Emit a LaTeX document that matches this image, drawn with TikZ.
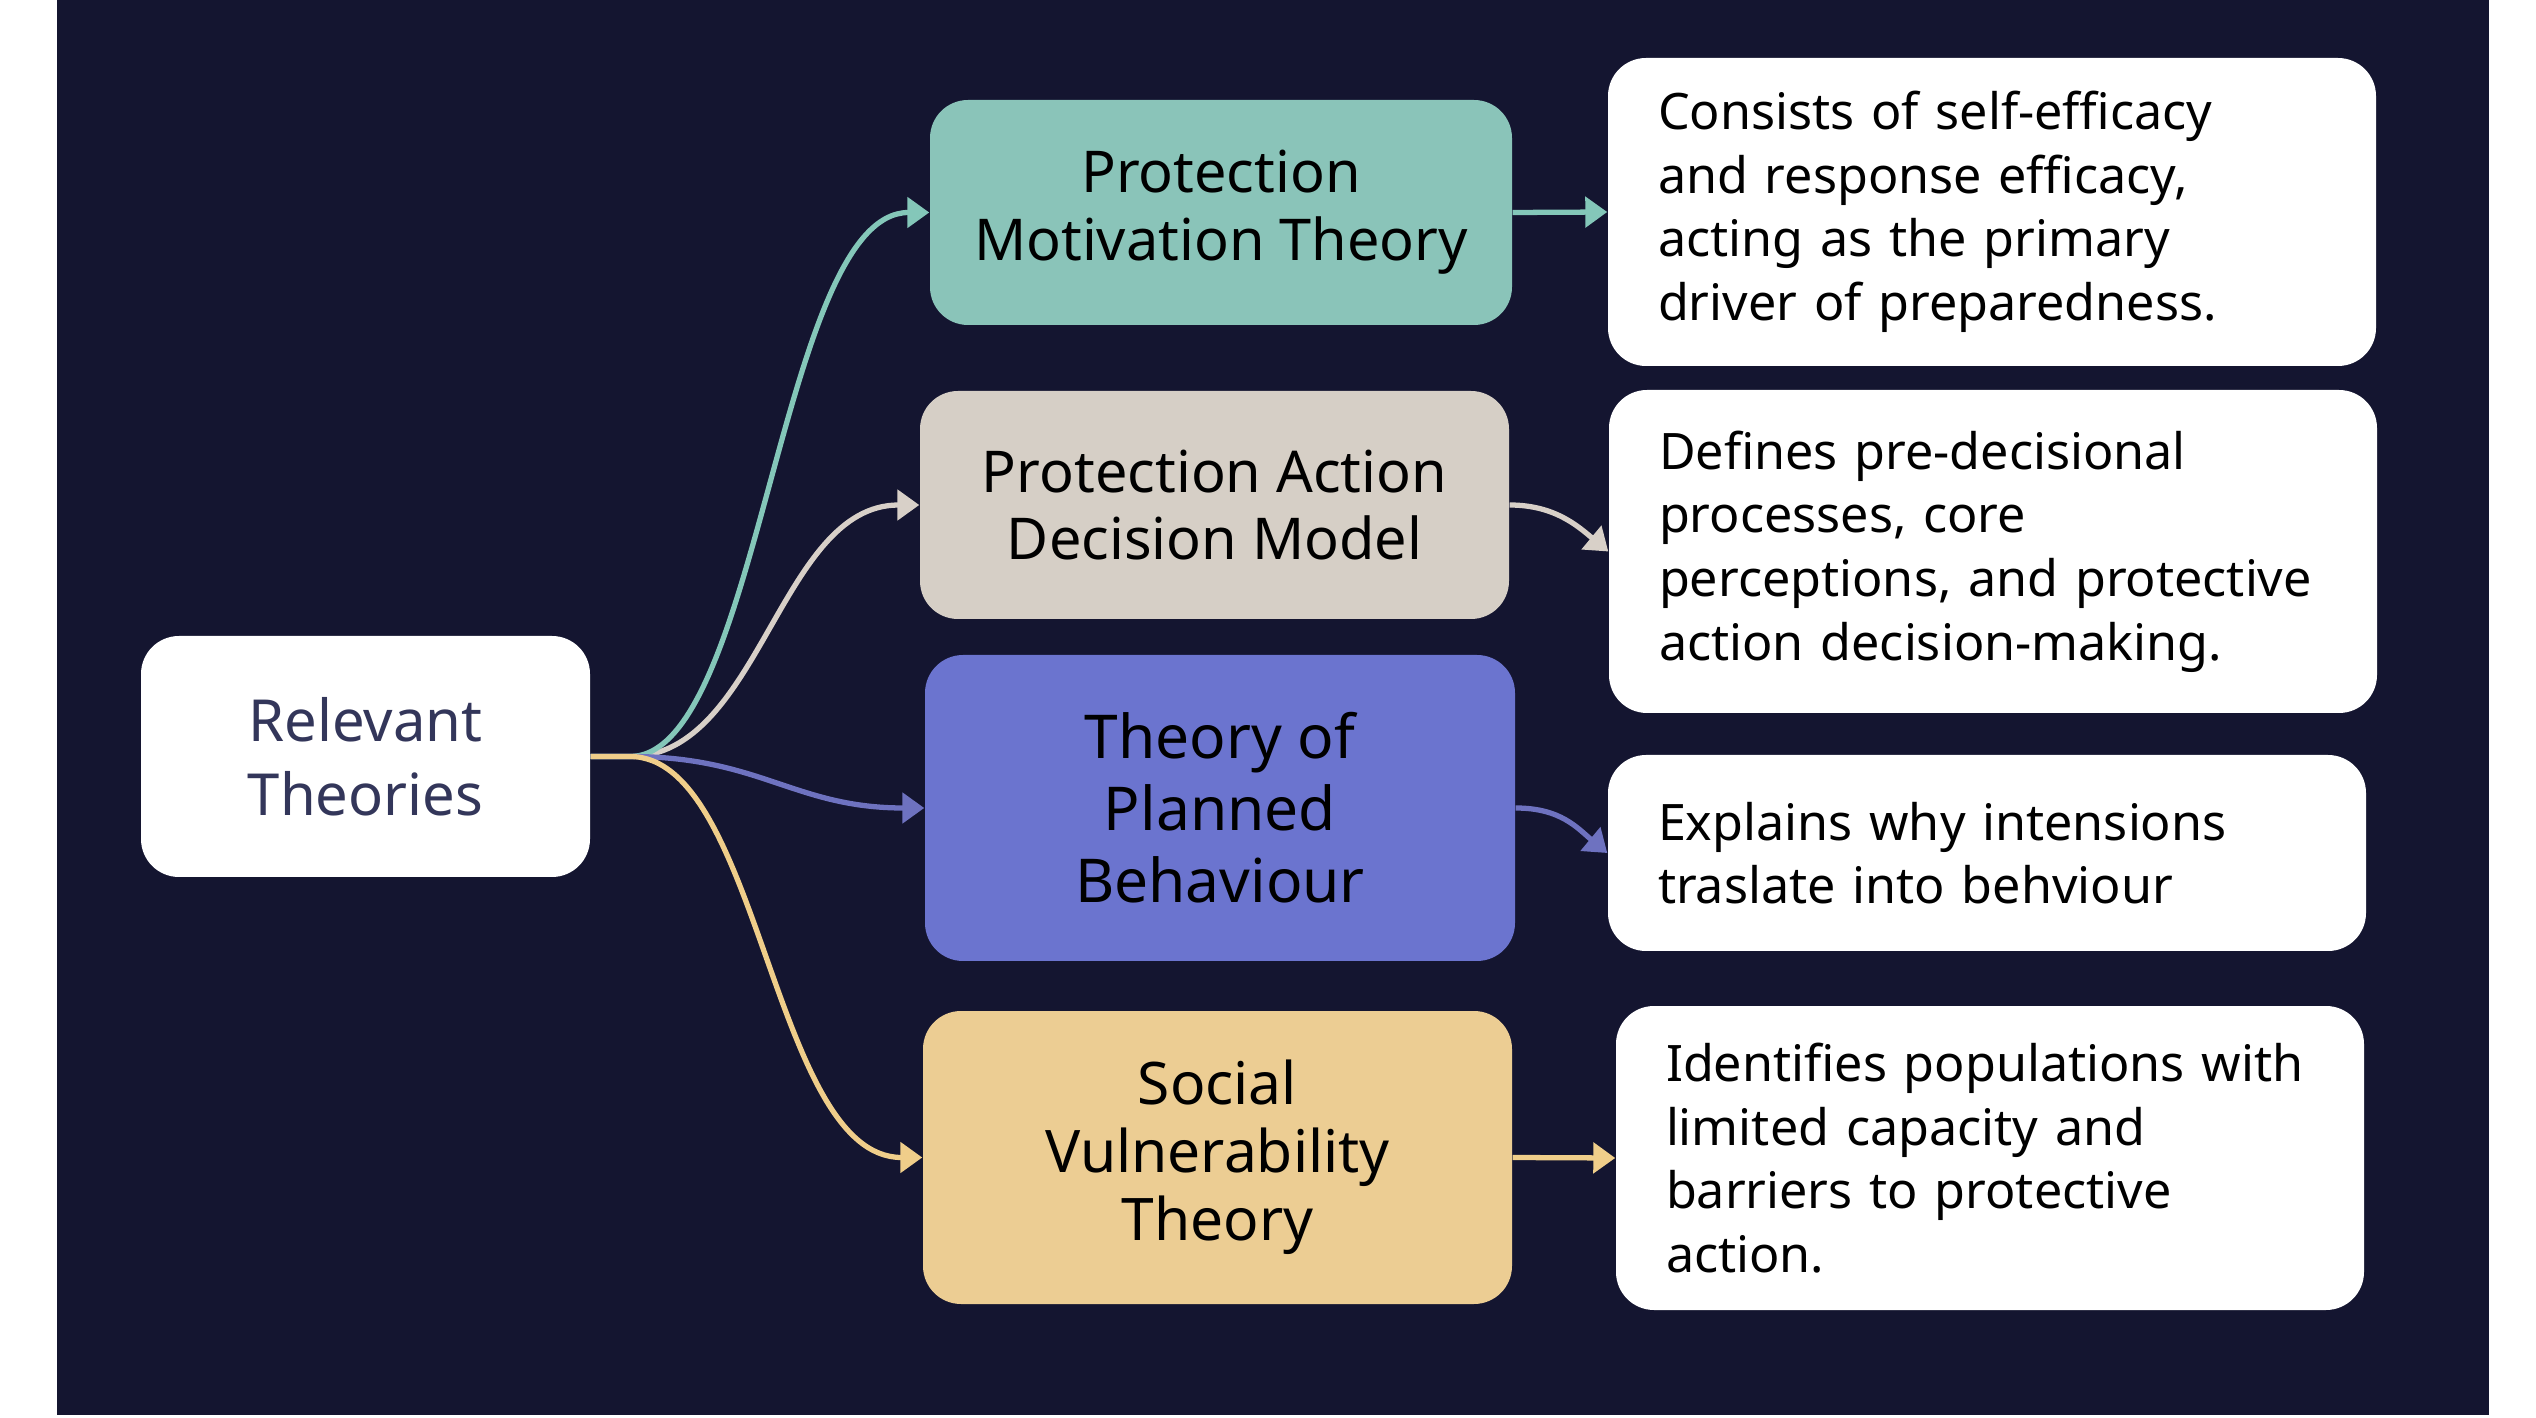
\documentclass[tikz,border=0pt]{standalone}
\usepackage{fontspec}
\setmainfont{Noto Sans}
\usetikzlibrary{arrows.meta}
\definecolor{bgnavy}{HTML}{141530}
\definecolor{rtnavy}{HTML}{33365A}
\definecolor{pmtteal}{HTML}{8AC4B9}
\definecolor{padmbeige}{HTML}{D6CFC6}
\definecolor{tpbblue}{HTML}{6B74CF}
\definecolor{svtsand}{HTML}{ECCD93}
\definecolor{pmtline}{HTML}{84C7B9}
\definecolor{padmline}{HTML}{D8D0C8}
\definecolor{tpbline}{HTML}{6E72C0}
\definecolor{svtline}{HTML}{F0CE8A}
\tikzset{
  box/.style={rectangle,rounded corners=0.38cm,inner sep=0pt},
  theory/.style={box,align=center,text=black,font=\fontsize{16.4}{19.3}\selectfont},
  descr/.style={box,fill=white,align=left,inner xsep=0.5cm,text=black,font=\fontsize{14.3}{18.1}\selectfont},
  link/.style={line width=1.5pt,-{Triangle[length=0.22cm,width=0.3cm]}},
}
\begin{document}
\begin{tikzpicture}
\useasboundingbox (0,0) rectangle (25.36,-14.18);
\fill[bgnavy] (0.57,0) rectangle (24.89,-14.15);
% root
\node[box,fill=white,text=rtnavy,align=center,font=\fontsize{16.5}{21}\selectfont,minimum width=4.49cm,minimum height=2.41cm] (rt) at (3.655,-7.565) {Relevant\\Theories};
% theories
\node[theory,fill=pmtteal,minimum width=5.82cm,minimum height=2.25cm] (pmt) at (12.21,-2.125) {Protection\\Motivation Theory};
\node[theory,fill=padmbeige,minimum width=5.89cm,minimum height=2.28cm] (padm) at (12.145,-5.05) {Protection Action\\Decision Model};
\node[theory,fill=tpbblue,minimum width=5.9cm,minimum height=3.06cm,font=\fontsize{17.2}{20.5}\selectfont] (tpb) at (12.2,-8.08) {Theory of\\Planned\\Behaviour};
\node[theory,fill=svtsand,minimum width=5.89cm,minimum height=2.93cm,font=\fontsize{16.7}{19.3}\selectfont] (svt) at (12.175,-11.575) {Social\\Vulnerability\\Theory};
% descriptions
\node[descr,text width=6.68cm,minimum height=3.08cm] (d1) at (19.92,-2.12) {Consists of self-efficacy\\and response efficacy,\\acting as the primary\\driver of preparedness.};
\node[descr,text width=6.68cm,minimum height=3.23cm] (d2) at (19.93,-5.515) {Defines pre-decisional\\processes, core\\perceptions, and protective\\action decision-making.};
\node[descr,text width=6.58cm,minimum height=1.96cm] (d3) at (19.87,-8.53) {Explains why intensions\\traslate into behviour};
\node[descr,text width=6.48cm,minimum height=3.04cm] (d4) at (19.90,-11.58) {Identifies populations with\\limited capacity and\\barriers to protective\\action.};
% links
\coordinate (fork) at (6.3,-7.565);
\draw[link,padmline] (rt.east) -- (fork) .. controls +(1.3,0) and +(-1.4,0) .. (padm.west);
\draw[link,pmtline] (rt.east) -- (fork) .. controls +(1.3,0) and +(-1.5,0) .. (pmt.west);
\draw[link,tpbline] (rt.east) -- (fork) .. controls +(1.3,0) and +(-1.3,0) .. (tpb.west);
\draw[link,svtline] (rt.east) -- (fork) .. controls +(1.3,0) and +(-1.5,0) .. (svt.west);
\draw[link,pmtline] (pmt.east) -- (d1.west);
\draw[link,padmline] (padm.east) .. controls +(0.45,0) and +(-0.3,0.25) .. (d2.west);
\draw[link,tpbline] (tpb.east) .. controls +(0.45,0) and +(-0.3,0.25) .. (d3.west);
\draw[link,svtline] (svt.east) -- (d4.west);
\end{tikzpicture}
\end{document}
